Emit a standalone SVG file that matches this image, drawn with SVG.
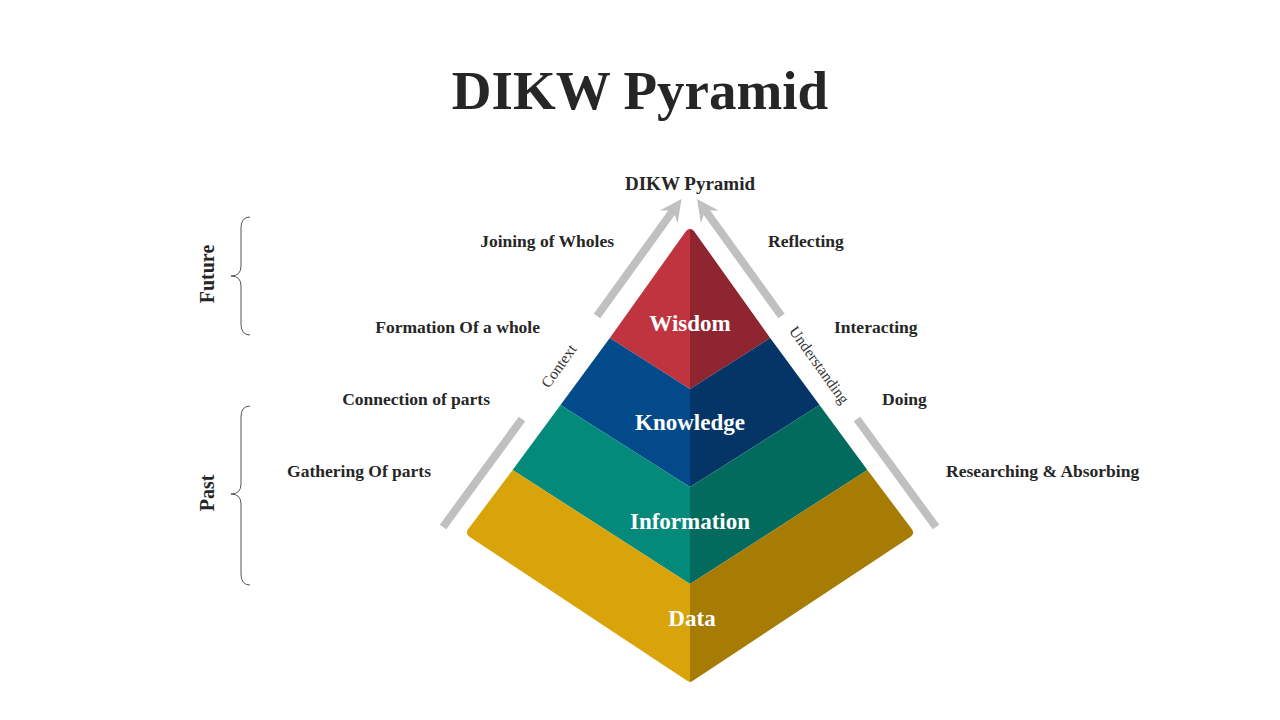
<svg xmlns="http://www.w3.org/2000/svg" width="1280" height="720" viewBox="0 0 1280 720">
<style>
.t{font-family:"Liberation Serif","Times New Roman",serif;font-weight:bold;fill:#262626}
.lbl{font-size:17.5px}
.lvl{font-family:"Liberation Serif","Times New Roman",serif;font-weight:bold;font-size:23px;fill:#ffffff;text-anchor:middle}
.rot{font-family:"Liberation Serif","Times New Roman",serif;font-size:15.5px;fill:#333333;text-anchor:middle}
.arr{stroke:#c0c0c0;stroke-width:8;fill:none}
.brace{stroke:#555555;stroke-width:1;fill:none}
</style>
<defs>
<g id="arrowL">
<line class="arr" x1="597" y1="316" x2="673.5" y2="210"/>
<polygon points="681.5,199 677.6,223.3 673.3,210.4 659.8,210.5" fill="#c0c0c0"/>
</g>
</defs>
<rect width="1280" height="720" fill="#ffffff"/>
<text class="t" x="640" y="109" font-size="55" text-anchor="middle">DIKW Pyramid</text>
<text class="t" x="690" y="190" font-size="19" text-anchor="middle">DIKW Pyramid</text>

<g id="connectors">
<use href="#arrowL"/>
<use href="#arrowL" transform="translate(1378.5,0) scale(-1,1)"/>
<line class="arr" x1="443" y1="527" x2="522" y2="419"/>
<line class="arr" x1="857" y1="419" x2="936" y2="527"/>
</g>

<g id="wisdom">
<path d="M690,229 Q687,229 685,232.5 L609.8,338 L690,389 Z" fill="#c0343f"/>
<path d="M690,229 Q693,229 695,232.5 L770.2,338 L690,389 Z" fill="#8e2530"/>
<text class="lvl" x="690" y="331">Wisdom</text>
</g>
<g id="knowledge">
<path d="M609.8,338 L690,389 L690,487 L560.5,405 Z" fill="#034a8a"/>
<path d="M770.2,338 L690,389 L690,487 L819.5,405 Z" fill="#043566"/>
<text class="lvl" x="690" y="430">Knowledge</text>
</g>
<g id="information">
<path d="M560.5,405 L690,487 L690,584 L512.6,470 Z" fill="#048a7a"/>
<path d="M819.5,405 L690,487 L690,584 L867.4,470 Z" fill="#026b5e"/>
<text class="lvl" x="690" y="529">Information</text>
</g>
<g id="data">
<path d="M512.6,470 L690,584 L690,682 Q689,682 686,680 L470.5,537.5 Q464,533.5 469,528 Z" fill="#d8a409"/>
<path d="M867.4,470 L690,584 L690,682 Q691,682 694,680 L909.5,537.5 Q916,533.5 911,528 Z" fill="#a67c04"/>
<text class="lvl" x="692" y="626">Data</text>
</g>

<g id="side-labels">
<text class="t lbl" x="614" y="247" text-anchor="end">Joining of Wholes</text>
<text class="t lbl" x="540" y="333" text-anchor="end">Formation Of a whole</text>
<text class="t lbl" x="490" y="405" text-anchor="end">Connection of parts</text>
<text class="t lbl" x="431" y="477" text-anchor="end">Gathering Of parts</text>
<text class="t lbl" x="768" y="247">Reflecting</text>
<text class="t lbl" x="834" y="333">Interacting</text>
<text class="t lbl" x="882" y="405">Doing</text>
<text class="t lbl" x="946" y="477">Researching &amp; Absorbing</text>
</g>

<g id="axis-labels">
<text class="rot" transform="translate(563,369) rotate(-54.3)">Context</text>
<text class="rot" transform="translate(815,368) rotate(54.3)">Understanding</text>
</g>

<g id="future">
<path class="brace" d="M250,217 Q241,217 241,228 L241,266 Q241,276 231,276 Q241,276 241,286 L241,324 Q241,335 250,335"/>
<text class="t" transform="translate(214,274) rotate(-90)" font-size="20" text-anchor="middle">Future</text>
</g>
<g id="past">
<path class="brace" d="M250,406 Q241,406 241,417 L241,484 Q241,494 231,494 Q241,494 241,504 L241,574 Q241,585 250,585"/>
<text class="t" transform="translate(214,493) rotate(-90)" font-size="20" text-anchor="middle">Past</text>
</g>
</svg>
